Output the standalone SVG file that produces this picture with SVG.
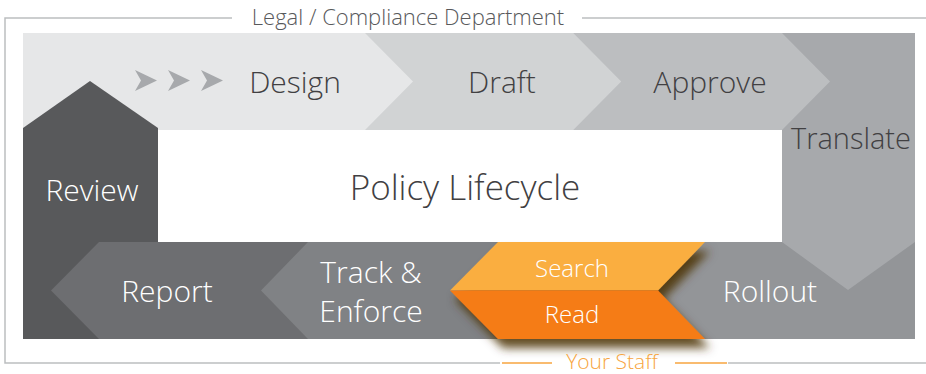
<svg xmlns="http://www.w3.org/2000/svg" width="926" height="374" viewBox="0 0 926 374">
<defs>
<style>
.t{font-family:"Open Sans","Noto Sans","Liberation Sans",sans-serif;font-weight:300;text-anchor:middle}
.dk{fill:#414042;font-size:30px}
.wh{fill:#ffffff;font-size:30px}
.or{fill:#ffffff;font-size:24px}
.frame{stroke:#bcbec0;stroke-width:1.5;fill:none}
.oline{stroke:#f7a540;stroke-width:1.5;fill:none}
</style>
<filter id="sh" x="-20%" y="-30%" width="140%" height="170%">
<feGaussianBlur in="SourceAlpha" stdDeviation="5"/>
<feOffset dx="5" dy="9" result="b"/>
<feFlood flood-color="#4a3000" flood-opacity="0.85"/>
<feComposite in2="b" operator="in"/>
<feMerge><feMergeNode/><feMergeNode in="SourceGraphic"/></feMerge>
</filter>
</defs>
<rect width="926" height="374" fill="#ffffff"/>
<g id="frame">
<path class="frame" d="M232 18H5V363H500M728 363H926M582 18H926"/>
<text class="t" x="408" y="25" style="font-size:22px;fill:#58595b">Legal / Compliance Department</text>
</g>
<g id="rollout">
<rect x="600" y="242" width="315" height="97" fill="#939598"/>
<text class="t wh" x="770" y="302">Rollout</text>
</g>
<g id="translate">
<polygon points="782,33 915,33 915,242 848,290 782,242" fill="#a7a9ac"/>
</g>
<g id="design">
<rect x="23" y="33" width="759" height="97" fill="#e6e7e8"/>
<polygon points="135,70 157,80.5 135,91 141,80.5" fill="#a7a9ac"/>
<polygon points="168,70 190,80.5 168,91 174,80.5" fill="#a7a9ac"/>
<polygon points="201,70 223,80.5 201,91 207,80.5" fill="#a7a9ac"/>
<text class="t dk" x="295" y="93">Design</text>
</g>
<g id="draft">
<polygon points="365,33 573,33 621,81.5 573,130 365,130 413,81.5" fill="#d1d3d4"/>
<text class="t dk" x="502" y="93">Draft</text>
</g>
<g id="approve">
<polygon points="573,33 782,33 830,81.5 782,130 573,130 621,81.5" fill="#bcbec0"/>
<text class="t dk" x="710" y="93">Approve</text>
</g>
<text class="t" x="851" y="149" style="font-size:29px;fill:#414042">Translate</text>
<g id="center">
<text class="t" x="465" y="200" style="font-size:35px;fill:#414042">Policy Lifecycle</text>
</g>
<g id="review">
<polygon points="23,128 90,81 158,128 158,339 23,339" fill="#58595b"/>
<text class="t wh" x="92" y="201">Review</text>
</g>
<g id="report">
<polygon points="99,242 320,242 320,339 99,339 51,290.5" fill="#6d6e71"/>
<text class="t wh" x="167" y="302">Report</text>
</g>
<g id="track">
<polygon points="308,242 660,242 660,339 308,339 261,290.5" fill="#808285"/>
<text class="t wh" x="371" y="283">Track &amp;</text>
<text class="t wh" x="371" y="322">Enforce</text>
</g>
<g id="staff">
<g filter="url(#sh)">
<polygon points="498,242 705,242 658,290.5 450,290.5" fill="#faae3f"/>
<polygon points="450,290.5 658,290.5 705,339 498,339" fill="#f57b14"/>
</g>
<text class="t or" x="572" y="277">Search</text>
<text class="t or" x="572" y="323">Read</text>
<path class="oline" d="M502 363H552M675 363H727"/>
<text class="t" x="612" y="369" style="font-size:21px;fill:#f7a540">Your Staff</text>
</g>
<g id="connectors"></g>
</svg>
